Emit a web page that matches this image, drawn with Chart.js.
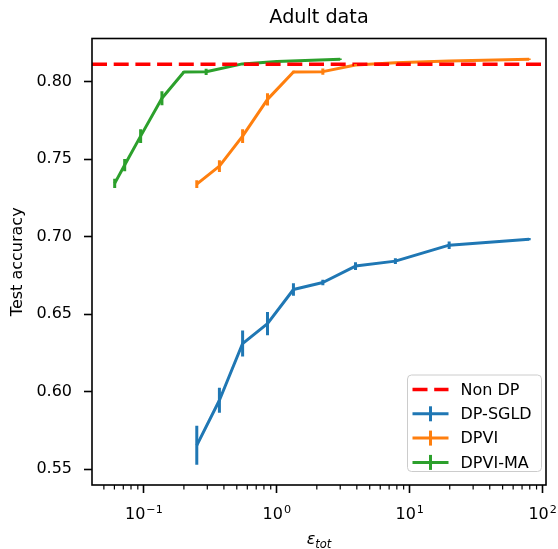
<!DOCTYPE html>
<html><head><meta charset="utf-8">
<script src="https://cdn.jsdelivr.net/npm/chart.js@4.4.1/dist/chart.umd.min.js"></script>
<style>html,body{margin:0;padding:0;background:#fff;overflow:hidden}#wrap{position:relative;width:558px;height:549px}</style>
</head><body><div id="wrap"><canvas id="c" width="558" height="549"></canvas></div>
<script>
// ---- data ----
const chartTitle = 'Adult data';
const yAxisTitle = 'Test accuracy';
const xAxisTitleMain = 'ε';
const xAxisTitleSub = 'tot';
const xMajorTicks = [0.1, 1, 10, 100];
const xTickBase = '10';
const xTickExponents = ['−1', '0', '1', '2'];
const yTickValues = [0.55, 0.60, 0.65, 0.70, 0.75, 0.80];
const yTickLabels = ['0.55', '0.60', '0.65', '0.70', '0.75', '0.80'];
const xLimits = [0.0407, 106];
const yLimits = [0.5397, 0.8279];
const seriesNames = ['Non DP', 'DP-SGLD', 'DPVI', 'DPVI-MA'];

const nonDpAcc = 0.8113;

const sgldEps = [0.25, 0.37, 0.553, 0.851, 1.334, 2.22, 3.91, 7.8, 19.8, 79.2];
const sgldAcc = [0.5653, 0.5944, 0.6310, 0.6439, 0.6659, 0.6704, 0.6810, 0.6842, 0.6945, 0.6984];
const sgldErr = [0.0126, 0.0081, 0.0084, 0.0075, 0.0041, 0.0018, 0.0025, 0.0018, 0.0024, 0.0008];

const dpviEps = [0.25, 0.37, 0.553, 0.851, 1.334, 2.22, 3.91, 7.8, 19.8, 79.2];
const dpviAcc = [0.7339, 0.7455, 0.7649, 0.7886, 0.8063, 0.8065, 0.8108, 0.8122, 0.8133, 0.8145];
const dpviErr = [0.0025, 0.0038, 0.0045, 0.0040, 0.0008, 0.0020, 0.0006, 0.0005, 0.0005, 0.0005];

const dpviMaEps = [0.0603, 0.0717, 0.0945, 0.1367, 0.200, 0.294, 0.55, 1.0, 3.0];
const dpviMaAcc = [0.7344, 0.7462, 0.7649, 0.7893, 0.8063, 0.8064, 0.8115, 0.8130, 0.8145];
const dpviMaErr = [0.0030, 0.0040, 0.0045, 0.0045, 0.0006, 0.0020, 0.0005, 0.0005, 0.0005];

// ---- chart ----
const FONT = 'DejaVu Sans';
const pts = (xs, ys) => xs.map((x, i) => ({ x: x, y: ys[i] }));

const mplPlugin = {
  id: 'mpl',
  afterDatasetsDraw(chart) {
    const ctx = chart.ctx, xs = chart.scales.x, ys = chart.scales.y, a = chart.chartArea;
    ctx.save();
    ctx.beginPath(); ctx.rect(a.left, a.top, a.right - a.left, a.bottom - a.top); ctx.clip();
    chart.data.datasets.forEach(ds => {
      if (!ds.err) return;
      ctx.strokeStyle = ds.borderColor; ctx.lineWidth = 3; ctx.lineCap = 'butt';
      ds.data.forEach((p, i) => {
        const px = xs.getPixelForValue(p.x);
        ctx.beginPath();
        ctx.moveTo(px, ys.getPixelForValue(p.y - ds.err[i]));
        ctx.lineTo(px, ys.getPixelForValue(p.y + ds.err[i]));
        ctx.stroke();
      });
    });
    ctx.restore();
  },
  afterDraw(chart) {
    const ctx = chart.ctx, xs = chart.scales.x, a = chart.chartArea;
    ctx.save();
    // minor x ticks
    ctx.strokeStyle = '#000'; ctx.lineWidth = 1.2;
    for (let n = -2; n <= 2; n++) {
      for (let k = 2; k <= 9; k++) {
        const v = k * Math.pow(10, n);
        if (v < xLimits[0] || v > xLimits[1]) continue;
        const px = xs.getPixelForValue(v);
        ctx.beginPath(); ctx.moveTo(px, a.bottom); ctx.lineTo(px, a.bottom + 4.5); ctx.stroke();
      }
    }
    // spines
    ctx.lineWidth = 1.6; ctx.strokeStyle = '#000';
    ctx.strokeRect(a.left, a.top, a.right - a.left, a.bottom - a.top);
    ctx.fillStyle = '#000';
    // x tick labels (base with raised exponent)
    ctx.textBaseline = 'alphabetic'; ctx.textAlign = 'left';
    xMajorTicks.forEach((v, i) => {
      const px = xs.getPixelForValue(v);
      ctx.font = '16px "' + FONT + '"';
      const wb = ctx.measureText(xTickBase).width;
      ctx.font = '11.2px "' + FONT + '"';
      const we = ctx.measureText(xTickExponents[i]).width;
      const x0 = px - (wb + we + 1) / 2;
      ctx.font = '16px "' + FONT + '"';
      ctx.fillText(xTickBase, x0, 519);
      ctx.font = '11.2px "' + FONT + '"';
      ctx.fillText(xTickExponents[i], x0 + wb + 1, 513);
    });
    // title
    ctx.font = '19.2px "' + FONT + '"';
    ctx.textAlign = 'center';
    ctx.fillText(chartTitle, (a.left + a.right) / 2, 23);
    // y title
    ctx.save();
    ctx.font = '16px "' + FONT + '"';
    ctx.translate(22, (a.top + a.bottom) / 2);
    ctx.rotate(-Math.PI / 2);
    ctx.fillText(yAxisTitle, 0, 0);
    ctx.restore();
    // x title
    ctx.font = 'italic 16px "' + FONT + '"';
    const w1 = ctx.measureText(xAxisTitleMain).width;
    ctx.font = 'italic 11.5px "' + FONT + '"';
    const w2 = ctx.measureText(xAxisTitleSub).width;
    const cx = (a.left + a.right) / 2 - (w1 + w2) / 2;
    ctx.textAlign = 'left';
    ctx.font = 'italic 16px "' + FONT + '"';
    ctx.fillText(xAxisTitleMain, cx, 544);
    ctx.font = 'italic 11.5px "' + FONT + '"';
    ctx.fillText(xAxisTitleSub, cx + w1, 547.5);
    // legend
    const L = { x: 407.5, y: 375, w: 134, h: 96.5 };
    ctx.fillStyle = 'rgba(255,255,255,0.8)';
    ctx.strokeStyle = '#cccccc'; ctx.lineWidth = 1;
    ctx.beginPath(); ctx.roundRect(L.x, L.y, L.w, L.h, 4); ctx.fill(); ctx.stroke();
    ctx.font = '16px "' + FONT + '"';
    ctx.textBaseline = 'middle'; ctx.textAlign = 'left';
    chart.data.datasets.forEach((ds, i) => {
      const ey = L.y + 14.5 + i * 24.3;
      ctx.strokeStyle = ds.borderColor; ctx.lineWidth = ds.borderWidth;
      ctx.setLineDash(ds.borderDash || []);
      ctx.beginPath(); ctx.moveTo(412.5, ey); ctx.lineTo(448.5, ey); ctx.stroke();
      ctx.setLineDash([]);
      if (ds.err) {
        ctx.lineWidth = 3;
        ctx.beginPath(); ctx.moveTo(430.5, ey - 7.5); ctx.lineTo(430.5, ey + 7.5); ctx.stroke();
      }
      ctx.fillStyle = '#000';
      ctx.fillText(ds.label, 460.5, ey + 1);
    });
    ctx.restore();
  }
};

new Chart(document.getElementById('c').getContext('2d'), {
  type: 'line',
  data: {
    datasets: [
      { label: seriesNames[0], data: pts(xLimits, [nonDpAcc, nonDpAcc]), borderColor: '#ff0000', borderWidth: 3.5, borderDash: [15, 6.7], pointRadius: 0 },
      { label: seriesNames[1], data: pts(sgldEps, sgldAcc), err: sgldErr, borderColor: '#1f77b4', borderWidth: 3, pointRadius: 0 },
      { label: seriesNames[2], data: pts(dpviEps, dpviAcc), err: dpviErr, borderColor: '#ff7f0e', borderWidth: 3, pointRadius: 0 },
      { label: seriesNames[3], data: pts(dpviMaEps, dpviMaAcc), err: dpviMaErr, borderColor: '#2ca02c', borderWidth: 3, pointRadius: 0 }
    ]
  },
  options: {
    responsive: false, animation: false, devicePixelRatio: 1,
    layout: { padding: { left: 0, right: 12, top: 38.5, bottom: 0 } },
    elements: { line: { tension: 0, borderJoinStyle: 'round', borderCapStyle: 'butt' } },
    plugins: { legend: { display: false }, title: { display: false }, tooltip: { enabled: false } },
    scales: {
      x: {
        type: 'logarithmic', min: xLimits[0], max: xLimits[1],
        afterBuildTicks: s => { s.ticks = xMajorTicks.map(v => ({ value: v, major: true })); },
        afterFit: s => { s.height = 64; s.paddingLeft = 0; s.paddingRight = 0; },
        ticks: { display: false, autoSkip: false, maxRotation: 0 },
        grid: { drawOnChartArea: false, drawTicks: true, tickLength: 8, tickWidth: 1.6, tickColor: '#000' },
        border: { display: false }
      },
      y: {
        type: 'linear', min: yLimits[0], max: yLimits[1],
        afterBuildTicks: s => { s.ticks = yTickValues.map(v => ({ value: v })); },
        afterFit: s => { s.width = 92; s.paddingTop = 0; s.paddingBottom = 0; },
        ticks: { autoSkip: false, padding: 12, color: '#000', font: { family: FONT, size: 16 },
          callback: (v, i) => yTickLabels[i] },
        grid: { drawOnChartArea: false, drawTicks: true, tickLength: 8, tickWidth: 1.6, tickColor: '#000' },
        border: { display: false }
      }
    }
  },
  plugins: [mplPlugin]
});
</script></body></html>
